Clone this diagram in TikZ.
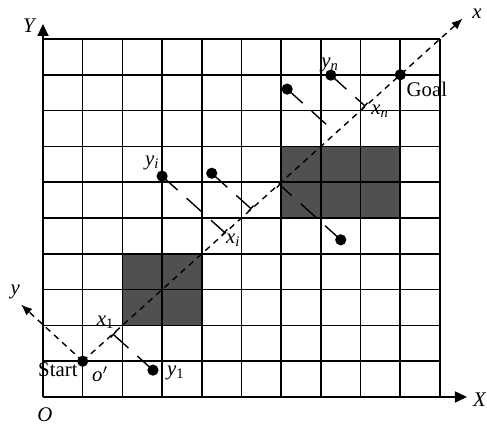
\documentclass[tikz,border=0pt]{standalone}
\usepackage{fontspec}
\setmainfont{Liberation Serif}
\usetikzlibrary{arrows.meta,calc}
\definecolor{obst}{RGB}{80,80,80}
\newcommand{\lab}[2]{\textit{#1}\textsubscript{#2}}
\begin{document}
\begin{tikzpicture}[x=19.85pt,y=17.9pt,
  gridline/.style={line width=0.8pt},
  axis/.style={line width=0.8pt,-{Triangle[length=6pt,width=5.5pt]}},
  diag/.style={line width=0.7pt,dash pattern=on 3pt off 2.5pt,-{Latex[length=5.5pt,width=4.5pt]}},
  proj/.style={line width=0.7pt,dash pattern=on 10.5pt off 6pt},
  projbar/.style={proj,-{Bar[width=4pt]}},
  dot/.style={circle,fill=black,inner sep=0pt,minimum size=5.6pt},
  lbl/.style={inner sep=0pt,font=\fontsize{10.4}{12}\selectfont}]
\useasboundingbox (-1.083,-0.754) rectangle (11.184,11.089);
% obstacles
\fill[obst] (2,2) rectangle (4,4);
\fill[obst] (6,5) rectangle (9,7);
% grid
\foreach \i in {1,...,10} {
  \draw[gridline] (\i,0) -- (\i,10);
  \draw[gridline] (0,\i) -- (10,\i);
}
% axes
\coordinate (O) at (0,0);
\coordinate (Xend) at (10.68,0);
\coordinate (Yend) at (0,10.42);
\draw[axis] (O) -- (Xend);
\draw[axis] (O) -- (Yend);
\node[lbl] (Xl) at (11.0,-0.08) {\textit{X}};
\node[lbl] (Yl) at (-0.33,10.36) {\textit{Y}};
\node[lbl] (Ol) at (0.05,-0.5) {\textit{O}};
% points
\node[dot] (start) at (1,1) {};
\node[dot] (goal) at (9,9) {};
\node[dot] (y1) at (2.77,0.75) {};
\node[dot] (yi) at (3.0,6.17) {};
\node[dot] (p2) at (4.25,6.25) {};
\node[dot] (p3) at (7.5,4.39) {};
\node[dot] (p4) at (6.15,8.6) {};
\node[dot] (yn) at (7.25,8.99) {};
% feet
\coordinate (f1) at (1.76,1.76);
\coordinate (fi) at (4.585,4.585);
\coordinate (f2) at (5.25,5.25);
\coordinate (f3) at (5.945,5.945);
\coordinate (f4) at (7.375,7.375);
\coordinate (fn) at (8.12,8.12);
% local axes
\coordinate (xtip) at (10.57,10.57);
\coordinate (ytip) at (-0.55,2.58);
\draw[diag] (start.center) -- (xtip);
\draw[diag] (start.center) -- (ytip);
\node[lbl] (xl) at (10.93,10.7) {\textit{x}};
\node[lbl] (yl) at (-0.7,2.93) {\textit{y}};
% projections
\draw[projbar] (y1.center) -- (f1);
\draw[projbar] (yi.center) -- (fi);
\draw[projbar] (p2.center) -- (f2);
\draw[projbar] (p3.center) -- (f3);
\draw[proj] (p4.center) -- ($(p4.center)!0.8!(f4)$);
\draw[projbar] (yn.center) -- (fn);
% labels
\node[lbl,anchor=east] (startl) at (0.88,0.76) {Start};
\node[lbl] (ol) at (1.44,0.64) {\textit{o}$'$};
\node[lbl] (goall) at (9.67,8.6) {Goal};
\node[lbl] (y1l) at (3.35,0.67) {\lab{y}{1}};
\node[lbl] (x1l) at (1.58,2.09) {\lab{x}{1}};
\node[lbl] (yil) at (2.75,6.54) {\lab{y}{\textit{i}}};
\node[lbl] (xil) at (4.79,4.39) {\lab{x}{\textit{i}}};
\node[lbl] (ynl) at (7.23,9.27) {\lab{y}{\textit{n}}};
\node[lbl] (xnl) at (8.49,7.99) {\lab{x}{\textit{n}}};
\end{tikzpicture}
\end{document}
